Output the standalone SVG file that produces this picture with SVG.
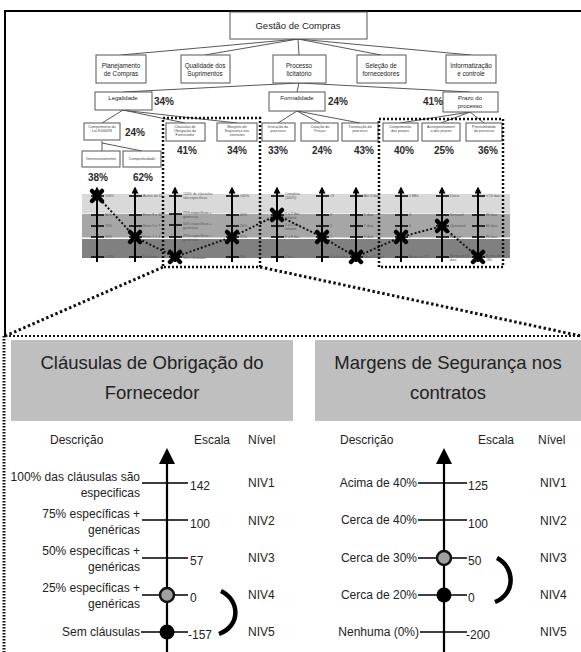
<svg xmlns="http://www.w3.org/2000/svg" width="581" height="652" viewBox="0 0 581 652">
<style>
  .box{fill:#fff;stroke:#555;stroke-width:1}
  .ln{stroke:#444;stroke-width:0.9;fill:none}
  .t{font-family:"Liberation Sans",Arial,sans-serif;fill:#222;text-anchor:middle}
  .t2{font-size:6.3px}
  .t3{font-size:6px}
  .t4{font-size:3.7px;fill:#444}
  .pct{font-family:"Liberation Sans",Arial,sans-serif;font-weight:bold;font-size:10px;fill:#2a2a2a;text-anchor:middle}
  .ax{stroke:#000;stroke-width:2;marker-end:url(#ah)}
  .tk{stroke:#000;stroke-width:1.6}
  .tl{font-family:"Liberation Sans",Arial,sans-serif;font-size:3.5px;fill:#555}
  .dotbox{fill:none;stroke:#111;stroke-width:2.5;stroke-dasharray:2 2}
  .zoomln{fill:none;stroke:#111;stroke-width:3;stroke-dasharray:2.5 2.5}
  .path{fill:none;stroke:#111;stroke-width:2;stroke-dasharray:2 2}
  .lab{font-family:"Liberation Sans",Arial,sans-serif;font-size:12px;fill:#222}
  .r{text-anchor:end}
  .ttl{font-family:"Liberation Sans",Arial,sans-serif;font-size:18.5px;fill:#222;text-anchor:middle}
  .bax{stroke:#000;stroke-width:2.2;marker-end:url(#ahL)}
  .btk{stroke:#000;stroke-width:1.6}
  .brace{fill:none;stroke:#000;stroke-width:4.5}
</style>
<defs>
  <marker id="ah" viewBox="0 0 10 10" refX="5" refY="5" markerWidth="7" markerHeight="7" markerUnits="userSpaceOnUse" orient="auto">
    <path d="M0,0 L10,5 L0,10 z" fill="#000"/>
  </marker>
  <marker id="ahL" viewBox="0 0 10 10" refX="5" refY="5" markerWidth="16" markerHeight="16" markerUnits="userSpaceOnUse" orient="auto">
    <path d="M0,0 L10,5 L0,10 z" fill="#000"/>
  </marker>
  <g id="mk">
    <path d="M-5,-5 L5,5 M-5,5 L5,-5" stroke="#000" stroke-width="4.5" stroke-linecap="round"/>
    <circle r="3.8" fill="#000"/>
  </g>
</defs>

<rect width="581" height="652" fill="#fff"/>

<!-- frame of the upper chart -->
<g id="frame">
  <path d="M5,336 L5,11 L581,11" fill="none" stroke="#000" stroke-width="2"/>
  <path d="M4,336 L4,652" fill="none" stroke="#111" stroke-width="3" stroke-dasharray="1.5 1.5"/>
</g>

<!-- score bands -->
<g id="bands">
  <rect x="82" y="194" width="428" height="19.5" fill="#d9d9d9"/>
  <rect x="82" y="214" width="428" height="23.5" fill="#a6a6a6"/>
  <rect x="82" y="239" width="428" height="19" fill="#808080"/>
</g>

<!-- connectors -->
<g id="connectors">
  <path class="ln" d="M298,39 L121,55 M298,39 L205,55 M298,39 L299,55 M298,39 L381,55 M298,39 L471,55"/>
  <path class="ln" d="M299,83 L123,92 M299,83 L297,92 M299,83 L470,92"/>
  <path class="ln" d="M123,110 L102,123 M123,110 L185,123 M121,110 L237,123"/>
  <path class="ln" d="M297,111 L278,123 M297,111 L320,123 M297,111 L360,123"/>
  <path class="ln" d="M470,112 L400,123 M470,112 L441,123 M470,112 L484,123"/>
  <path class="ln" d="M102,141 L102,151 M102,143 L142,151"/>
</g>

<!-- tree nodes -->
<g id="n-gestao"><rect class="box" x="230" y="12" width="137" height="27"/><text class="t" x="298" y="29" font-size="9.5">Gestão de Compras</text></g>
<g id="n-planejamento"><rect class="box" x="96" y="55" width="50" height="28"/><text class="t t2" x="121" y="68">Planejamento</text><text class="t t2" x="121" y="76">de Compras</text></g>
<g id="n-qualidade"><rect class="box" x="181" y="55" width="49" height="28"/><text class="t t2" x="205" y="68">Qualidade dos</text><text class="t t2" x="205" y="76">Suprimentos</text></g>
<g id="n-processo"><rect class="box" x="273" y="55" width="53" height="28"/><text class="t t2" x="299" y="68">Processo</text><text class="t t2" x="299" y="76">licitatório</text></g>
<g id="n-selecao"><rect class="box" x="357" y="55" width="49" height="28"/><text class="t t2" x="381" y="68">Seleção de</text><text class="t t2" x="381" y="76">fornecedores</text></g>
<g id="n-informatizacao"><rect class="box" x="446" y="55" width="50" height="28"/><text class="t t2" x="471" y="68">Informatização</text><text class="t t2" x="471" y="76">e controle</text></g>

<g id="n-legalidade"><rect class="box" x="95" y="92" width="57" height="18"/><text class="t t3" x="123" y="100">Legalidade</text><text class="pct" x="164" y="105">34%</text></g>
<g id="n-formalidade"><rect class="box" x="269" y="92" width="56" height="19"/><text class="t t3" x="297" y="100">Formalidade</text><text class="pct" x="338" y="105">24%</text></g>
<g id="n-prazo"><rect class="box" x="443" y="92" width="55" height="20"/><text class="t t3" x="470" y="100">Prazo do</text><text class="t t3" x="470" y="108">processo</text><text class="pct" x="433" y="105">41%</text></g>

<g id="n-cumprimento-lei"><rect class="box" x="84" y="123" width="36" height="17"/><text class="t t4" x="102" y="128">Cumprimento da</text><text class="t t4" x="102" y="132">Lei 8.666/93</text><text class="pct" x="135" y="136">24%</text></g>
<g id="n-clausulas"><rect class="box" x="166" y="123" width="39" height="18"/><text class="t t4" x="185" y="128">Cláusulas de</text><text class="t t4" x="185" y="132">Obrigação do</text><text class="t t4" x="185" y="136">Fornecedor</text><text class="pct" x="187" y="154">41%</text></g>
<g id="n-margens"><rect class="box" x="217" y="123" width="40" height="18"/><text class="t t4" x="237" y="128">Margens de</text><text class="t t4" x="237" y="132">Segurança nos</text><text class="t t4" x="237" y="136">contratos</text><text class="pct" x="237" y="154">34%</text></g>
<g id="n-instrucao"><rect class="box" x="262" y="123" width="33" height="18"/><text class="t t4" x="278" y="128">Instrução do</text><text class="t t4" x="278" y="132">processo</text><text class="pct" x="278" y="154">33%</text></g>
<g id="n-cotacao"><rect class="box" x="301" y="123" width="37" height="18"/><text class="t t4" x="320" y="128">Cotação de</text><text class="t t4" x="320" y="132">Preços</text><text class="pct" x="322" y="154">24%</text></g>
<g id="n-tramitacao"><rect class="box" x="342" y="123" width="36" height="18"/><text class="t t4" x="360" y="128">Tramitação do</text><text class="t t4" x="360" y="132">processo</text><text class="pct" x="364" y="154">43%</text></g>
<g id="n-cumprimento-prazos"><rect class="box" x="383" y="123" width="35" height="18"/><text class="t t4" x="400" y="128">Cumprimento</text><text class="t t4" x="400" y="132">dos prazos</text><text class="pct" x="404" y="154">40%</text></g>
<g id="n-acompanhamento"><rect class="box" x="422" y="123" width="38" height="18"/><text class="t t4" x="441" y="128">Acompanhament</text><text class="t t4" x="441" y="132">o dos prazos</text><text class="pct" x="444" y="154">25%</text></g>
<g id="n-previsibilidade"><rect class="box" x="466" y="123" width="36" height="18"/><text class="t t4" x="484" y="128">Previsibilidade</text><text class="t t4" x="484" y="132">do processo</text><text class="pct" x="488" y="154">36%</text></g>

<g id="n-dimensionamento"><rect class="box" x="82" y="151" width="38" height="16"/><text class="t t4" x="101" y="160">Dimensionamento</text><text class="pct" x="98" y="181">38%</text></g>
<g id="n-competitividade"><rect class="box" x="123" y="151" width="38" height="16"/><text class="t t4" x="142" y="160">Competitividade</text><text class="pct" x="143" y="181">62%</text></g>

<!-- descriptor scales -->
<g id="scales">
  <g id="s-dimensionamento">
    <line class="ax" x1="97" y1="262" x2="97" y2="190"/>
    <path class="tk" d="M91,196h13M91,215h13M91,226h13M91,237h13M91,257h13"/>
    <text class="tl" x="105" y="197">100%</text><text class="tl" x="105" y="216">80%</text><text class="tl" x="105" y="227">70%</text><text class="tl" x="105" y="238">50%</text><text class="tl" x="105" y="258">&lt;10%</text>
  </g>
  <g id="s-competitividade">
    <line class="ax" x1="135" y1="262" x2="135" y2="190"/>
    <path class="tk" d="M129,196h13M129,215h13M129,226h13M129,237h13M129,257h13"/>
    <text class="tl" x="143" y="197">Acima de 10</text><text class="tl" x="143" y="216">Entre 8 e 10</text><text class="tl" x="143" y="227">Entre 5 e 7</text><text class="tl" x="143" y="238">Entre 1 e 4</text><text class="tl" x="143" y="258">Nenhuma</text>
  </g>
  <g id="s-clausulas">
    <line class="ax" x1="175" y1="262" x2="175" y2="190"/>
    <path class="tk" d="M169,196h13M169,214h13M169,225h13M169,237h13M169,257h13"/>
    <text class="tl" x="183" y="195">100% de cláusulas</text><text class="tl" x="183" y="199">são específicas</text>
    <text class="tl" x="183" y="214">75% específicas +</text><text class="tl" x="183" y="218">genéricas</text>
    <text class="tl" x="183" y="225">50% específicas +</text><text class="tl" x="183" y="229">genéricas</text>
    <text class="tl" x="183" y="237">25% específicas +</text><text class="tl" x="183" y="241">genéricas</text>
    <text class="tl" x="183" y="259">Sem cláusulas</text>
  </g>
  <g id="s-margens">
    <line class="ax" x1="232" y1="262" x2="232" y2="190"/>
    <path class="tk" d="M226,196h13M226,215h13M226,226h13M226,237h13M226,257h13"/>
    <text class="tl" x="240" y="197">&gt;40%</text><text class="tl" x="240" y="216">40%</text><text class="tl" x="240" y="227">30%</text><text class="tl" x="240" y="238">20%</text><text class="tl" x="240" y="258">0%</text>
  </g>
  <g id="s-instrucao">
    <line class="ax" x1="277" y1="262" x2="277" y2="190"/>
    <path class="tk" d="M271,196h13M271,215h13M271,226h13M271,237h13M271,257h13"/>
    <text class="tl" x="285" y="195">Completo</text><text class="tl" x="285" y="199">(100%)</text>
    <text class="tl" x="285" y="215">1 a 2 doc.</text><text class="tl" x="285" y="219">faltante</text>
    <text class="tl" x="285" y="226">3 a 5 doc.</text><text class="tl" x="285" y="230">faltante</text>
    <text class="tl" x="285" y="238">6 a 8 doc.</text><text class="tl" x="285" y="258">7 ou +</text>
  </g>
  <g id="s-cotacao">
    <line class="ax" x1="322" y1="262" x2="322" y2="190"/>
    <path class="tk" d="M316,196h13M316,215h13M316,226h13M316,237h13M316,257h13"/>
    <text class="tl" x="330" y="197">&gt;3</text><text class="tl" x="330" y="216">3</text><text class="tl" x="330" y="227">2</text><text class="tl" x="330" y="238">1</text><text class="tl" x="330" y="258">Justificativa</text>
  </g>
  <g id="s-tramitacao">
    <line class="ax" x1="356" y1="262" x2="356" y2="190"/>
    <path class="tk" d="M350,196h13M350,215h13M350,226h13M350,237h13M350,257h13"/>
    <text class="tl" x="364" y="197">Até 3 dias</text><text class="tl" x="364" y="216">5 dias</text><text class="tl" x="364" y="227">7 dias</text><text class="tl" x="364" y="238">9 dias</text><text class="tl" x="364" y="258">Mais 11 dias</text>
  </g>
  <g id="s-cumprimento-prazos">
    <line class="ax" x1="401" y1="262" x2="401" y2="190"/>
    <path class="tk" d="M395,196h13M395,215h13M395,226h13M395,237h13M395,257h13"/>
    <text class="tl" x="409" y="197">1 Mês</text><text class="tl" x="409" y="216">3</text><text class="tl" x="409" y="227">6</text><text class="tl" x="409" y="238">9</text><text class="tl" x="409" y="258">Acima de 12</text>
  </g>
  <g id="s-acompanhamento">
    <line class="ax" x1="442" y1="262" x2="442" y2="190"/>
    <path class="tk" d="M436,196h13M436,215h13M436,226h13M436,237h13M436,257h13"/>
    <text class="tl" x="450" y="197">Diário</text><text class="tl" x="450" y="216">Semanal</text><text class="tl" x="450" y="227">Quinzenal</text><text class="tl" x="450" y="238">Mensal</text>
    <text class="tl" x="450" y="257">Acima de 90</text><text class="tl" x="450" y="261">dias</text>
  </g>
  <g id="s-previsibilidade">
    <line class="ax" x1="478" y1="262" x2="478" y2="190"/>
    <path class="tk" d="M472,196h13M472,215h13M472,226h13M472,237h13M472,257h13"/>
    <text class="tl" x="486" y="197">&lt; 15 dias</text><text class="tl" x="486" y="216">30 dias</text><text class="tl" x="486" y="227">60 dias</text><text class="tl" x="486" y="238">90 dias</text>
    <text class="tl" x="486" y="257">Acima de</text><text class="tl" x="486" y="261">180</text>
  </g>
</g>

<!-- performance profile -->
<g id="profile">
  <polyline class="path" points="97,196 135,237 175,257 232,237 277,215 322,237 356,257 401,237 442,226 478,257"/>
  <use href="#mk" x="97" y="196"/><use href="#mk" x="135" y="237"/><use href="#mk" x="175" y="257"/>
  <use href="#mk" x="232" y="237"/><use href="#mk" x="277" y="215"/><use href="#mk" x="322" y="237"/>
  <use href="#mk" x="356" y="257"/><use href="#mk" x="401" y="237"/><use href="#mk" x="442" y="226"/>
  <use href="#mk" x="478" y="257"/>
</g>

<!-- highlighted groups and zoom lines -->
<g id="highlight">
  <rect class="dotbox" x="163" y="118" width="97" height="149"/>
  <rect class="dotbox" x="379" y="119" width="124" height="148"/>
  <path class="zoomln" d="M163,267 L5,336 M260,267 L581,336"/>
  <path class="path" d="M5,336 L581,336"/>
</g>

<!-- detail: supplier obligation clauses -->
<g id="detail-clausulas">
  <rect x="11" y="340" width="282" height="81" fill="#bfbfbf"/>
  <text class="ttl" x="152" y="369">Cláusulas de Obrigação do</text>
  <text class="ttl" x="152" y="399">Fornecedor</text>
  <text class="lab" x="50" y="444">Descrição</text>
  <text class="lab" x="194" y="444">Escala</text>
  <text class="lab" x="248" y="444">Nível</text>
  <line class="bax" x1="167" y1="652" x2="167" y2="456"/>
  <path class="btk" d="M142,483H188M142,520H188M142,558H188M142,595H188M141,632H188"/>
  <text class="lab r" x="140" y="481">100% das cláusulas são</text>
  <text class="lab r" x="140" y="497">especificas</text>
  <text class="lab r" x="140" y="518">75% específicas +</text>
  <text class="lab r" x="140" y="534">genéricas</text>
  <text class="lab r" x="140" y="555">50% específicas +</text>
  <text class="lab r" x="140" y="571">genéricas</text>
  <text class="lab r" x="140" y="592">25% específicas +</text>
  <text class="lab r" x="140" y="608">genéricas</text>
  <text class="lab r" x="140" y="636">Sem cláusulas</text>
  <text class="lab" x="190" y="490">142</text>
  <text class="lab" x="190" y="528">100</text>
  <text class="lab" x="190" y="565">57</text>
  <text class="lab" x="190" y="602">0</text>
  <text class="lab" x="188" y="639">-157</text>
  <text class="lab" x="248" y="487">NIV1</text>
  <text class="lab" x="248" y="525">NIV2</text>
  <text class="lab" x="248" y="562">NIV3</text>
  <text class="lab" x="248" y="599">NIV4</text>
  <text class="lab" x="248" y="636">NIV5</text>
  <circle cx="167" cy="595" r="7" fill="#a0a0a0" stroke="#111" stroke-width="2.5"/>
  <circle cx="167" cy="632" r="7.5" fill="#000"/>
  <path class="brace" d="M221,591 C240,600 241,626 219,634"/>
</g>

<!-- detail: safety margins in contracts -->
<g id="detail-margens">
  <rect x="315" y="340" width="266" height="81" fill="#bfbfbf"/>
  <text class="ttl" x="448" y="369">Margens de Segurança nos</text>
  <text class="ttl" x="448" y="399">contratos</text>
  <text class="lab" x="340" y="444">Descrição</text>
  <text class="lab" x="478" y="444">Escala</text>
  <text class="lab" x="538" y="444">Nível</text>
  <line class="bax" x1="444" y1="652" x2="444" y2="456"/>
  <path class="btk" d="M418,483H467M418,520H467M418,558H467M418,595H467M420,632H467"/>
  <text class="lab r" x="417" y="487">Acima de 40%</text>
  <text class="lab r" x="417" y="524">Cerca de 40%</text>
  <text class="lab r" x="417" y="562">Cerca de 30%</text>
  <text class="lab r" x="417" y="599">Cerca de 20%</text>
  <text class="lab r" x="419" y="636">Nenhuma (0%)</text>
  <text class="lab" x="468" y="490">125</text>
  <text class="lab" x="468" y="528">100</text>
  <text class="lab" x="468" y="565">50</text>
  <text class="lab" x="468" y="602">0</text>
  <text class="lab" x="466" y="639">-200</text>
  <text class="lab" x="540" y="487">NIV1</text>
  <text class="lab" x="540" y="525">NIV2</text>
  <text class="lab" x="540" y="562">NIV3</text>
  <text class="lab" x="540" y="599">NIV4</text>
  <text class="lab" x="540" y="636">NIV5</text>
  <circle cx="444" cy="558" r="7" fill="#a0a0a0" stroke="#111" stroke-width="2.5"/>
  <circle cx="444" cy="595" r="7.5" fill="#000"/>
  <path class="brace" d="M497,558 C515,567 516,594 495,602"/>
</g>
</svg>
